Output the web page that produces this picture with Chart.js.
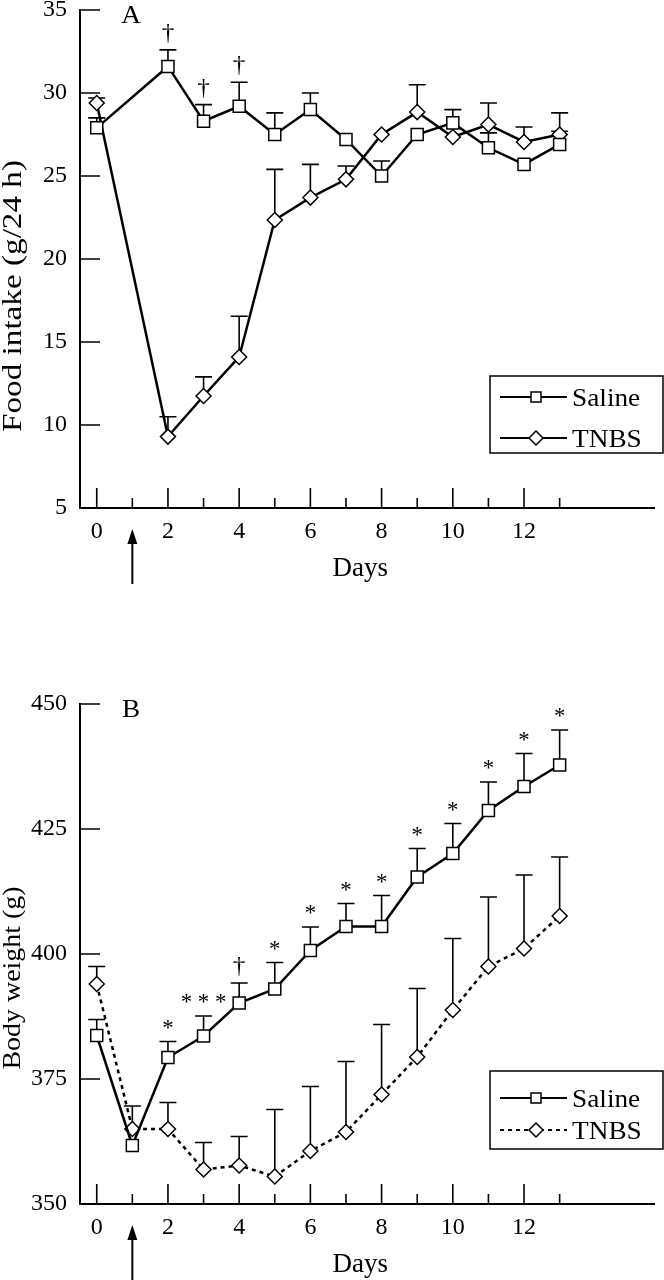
<!DOCTYPE html>
<html>
<head>
<meta charset="utf-8">
<script src="https://cdn.jsdelivr.net/npm/chart.js@4.4.0/dist/chart.umd.min.js"></script>
<style>
html, body { margin: 0; padding: 0; background: #fff; }
.panel { position: absolute; left: 0; width: 664px; height: 640px; }
#panelA { top: 0; }
#panelB { top: 640px; }
</style>
</head>
<body>
<div class="panel" id="panelA"><canvas id="chartA" width="664" height="640"></canvas></div>
<div class="panel" id="panelB"><canvas id="chartB" width="664" height="640"></canvas></div>
<script>
var days = [0, 1, 2, 3, 4, 5, 6, 7, 8, 9, 10, 11, 12, 13];
var xTickLabels = [0, 2, 4, 6, 8, 10, 12];
var foodTicks = [5, 10, 15, 20, 25, 30, 35];
var weightTicks = [350, 375, 400, 425, 450];
var seriesNames = ['Saline', 'TNBS'];

// panel A - food intake (g/24 h), mean and upper SEM
var foodSaline    = [27.9, null, 31.6, 28.3, 29.2, 27.5, 29.0, 27.2, 25.0, 27.5, 28.2, 26.7, 25.7, 26.9];
var foodSalineErr = [0.6, null, 1.0, 1.0, 1.45, 1.3, 1.0, 0, 0.9, 0, 0.8, 0.9, 0, 0.8];
var foodTnbs      = [29.4, null, 9.3, 11.75, 14.1, 22.35, 23.7, 24.8, 27.5, 28.85, 27.35, 28.1, 27.05, 27.5];
var foodTnbsErr   = [0.3, null, 1.2, 1.15, 2.45, 3.05, 2.0, 0.8, 0, 1.65, 0, 1.3, 0.9, 1.3];
var foodMarks     = ['', '', '†', '†', '†', '', '', '', '', '', '', '', '', ''];

// panel B - body weight (g)
var weightSaline    = [383.7, 361.7, 379.3, 383.6, 390.2, 393.0, 400.7, 405.5, 405.5, 415.4, 420.1, 428.7, 433.5, 437.8];
var weightSalineErr = [3.2, 0, 3.2, 4.0, 4.0, 5.3, 4.7, 4.6, 6.2, 5.7, 6.0, 5.7, 6.6, 7.0];
var weightTnbs      = [394.0, 365.0, 365.0, 356.9, 357.7, 355.5, 360.6, 364.4, 371.9, 379.4, 388.8, 397.5, 401.1, 407.6];
var weightTnbsErr   = [3.5, 4.6, 5.3, 5.4, 5.8, 13.4, 12.9, 14.1, 14.0, 13.7, 14.3, 13.9, 14.7, 11.8];
var weightMarks     = ['', '', '*', '* * *', '†', '*', '*', '*', '*', '*', '*', '*', '*', '*'];

var FONT = '"Liberation Serif", "Times New Roman", serif';

function toPoints(vals) {
    return days.map(function(d, i) { return { x: d, y: vals[i] }; });
}

function drawMarker(ctx, style, x, y, r) {
    ctx.save();
    ctx.fillStyle = '#fff';
    ctx.strokeStyle = '#000';
    ctx.lineWidth = 1.5;
    ctx.beginPath();
    if (style == 'rect') {
        ctx.rect(x - r, y - r, 2 * r, 2 * r);
    } else {
        ctx.moveTo(x, y - r); ctx.lineTo(x + r, y); ctx.lineTo(x, y + r); ctx.lineTo(x - r, y); ctx.closePath();
    }
    ctx.fill();
    ctx.stroke();
    ctx.restore();
}

function stretchText(ctx, text, x, y, size, sx, align, baseline) {
    ctx.save();
    ctx.translate(x, y);
    ctx.scale(sx, 1);
    ctx.font = size + 'px ' + FONT;
    ctx.fillStyle = '#000';
    ctx.textAlign = align;
    ctx.textBaseline = baseline;
    ctx.fillText(text, 0, 0);
    ctx.restore();
}

// error bars (upper only), drawn under the markers
var errorBars = {
    id: 'errorBars',
    beforeDatasetsDraw: function(chart) {
        var ctx = chart.ctx, xs = chart.scales.x, ys = chart.scales.y;
        ctx.save();
        ctx.strokeStyle = '#000';
        ctx.lineWidth = 1.6;
        chart.data.datasets.forEach(function(ds) {
            ds.data.forEach(function(p, i) {
                var e = ds.err[i];
                if (p.y == null || !e) return;
                var px = xs.getPixelForValue(p.x);
                var y0 = ys.getPixelForValue(p.y);
                var y1 = ys.getPixelForValue(p.y + e);
                ctx.beginPath();
                ctx.moveTo(px, y0); ctx.lineTo(px, y1);
                ctx.moveTo(px - 8.5, y1); ctx.lineTo(px + 8.5, y1);
                ctx.stroke();
            });
        });
        ctx.restore();
    }
};

// inward tick marks and the rest of the decorations
var decor = {
    id: 'decor',
    afterDraw: function(chart, args, o) {
        var ctx = chart.ctx, xs = chart.scales.x, ys = chart.scales.y, area = chart.chartArea;
        ctx.save();
        ctx.strokeStyle = '#000';
        ctx.fillStyle = '#000';
        ctx.lineWidth = 1.6;
        ctx.beginPath();
        o.yTicks.forEach(function(v) {
            var py = ys.getPixelForValue(v);
            ctx.moveTo(area.left, py); ctx.lineTo(area.left + 20, py);
        });
        days.forEach(function(d) {
            var px = xs.getPixelForValue(d);
            var len = xTickLabels.indexOf(d) >= 0 ? 20 : 10;
            ctx.moveTo(px, area.bottom); ctx.lineTo(px, area.bottom - len);
        });
        ctx.stroke();

        // panel letter
        stretchText(ctx, o.letter, area.left + 51, area.top + 13, 26, 1.05, 'center', 'alphabetic');

        // significance marks above saline error bars
        var sal = chart.data.datasets[0];
        o.marks.forEach(function(m, i) {
            if (!m) return;
            var px = xs.getPixelForValue(days[i]);
            var top = ys.getPixelForValue(sal.data[i].y + (sal.err[i] || 0));
            var isStar = m.indexOf('*') >= 0;
            var cy = top - (isStar ? 19 : 16);
            var base = cy + (isStar ? 12 : 6);
            stretchText(ctx, m, px, base, 24, isStar ? 0.95 : 1.05, 'center', 'alphabetic');
        });

        // arrow marking the day of TNBS instillation
        var ax = xs.getPixelForValue(1);
        var tip = area.bottom + 21;
        ctx.lineWidth = 2;
        ctx.beginPath();
        ctx.moveTo(ax, tip + 10); ctx.lineTo(ax, area.bottom + 76);
        ctx.stroke();
        ctx.beginPath();
        ctx.moveTo(ax, tip); ctx.lineTo(ax + 5, tip + 15); ctx.lineTo(ax - 5, tip + 15); ctx.closePath();
        ctx.fill();

        // x title
        stretchText(ctx, 'Days', xs.getPixelForValue(7.4), area.bottom + 68, 27, 1.0, 'center', 'alphabetic');

        // y title
        ctx.save();
        ctx.translate(o.titleX, o.titleY);
        ctx.rotate(-Math.PI / 2);
        ctx.font = o.titleSize + 'px ' + FONT;
        var w = ctx.measureText(o.title).width;
        ctx.scale(o.titleLen / w, 1);
        ctx.textAlign = 'center';
        ctx.textBaseline = 'middle';
        ctx.fillText(o.title, 0, 0);
        ctx.restore();

        // legend
        var L = o.legend;
        ctx.lineWidth = 1.5;
        ctx.strokeRect(L.left, L.top, L.right - L.left, L.bottom - L.top);
        chart.data.datasets.forEach(function(ds, k) {
            var ry = L.rows[k];
            ctx.save();
            ctx.lineWidth = 2;
            ctx.setLineDash(ds.borderDash || []);
            ctx.beginPath();
            ctx.moveTo(L.left + 10, ry); ctx.lineTo(L.left + 77, ry);
            ctx.stroke();
            ctx.restore();
            drawMarker(ctx, ds.pointStyle, L.left + 46, ry, ds.pointStyle == 'rect' ? 5 : 7);
            stretchText(ctx, ds.label, L.left + 82, ry + 9, 26, 1.05, 'left', 'alphabetic');
        });
        ctx.restore();
    }
};

function seriesStyle(label, vals, errs, style, dashed) {
    return {
        label: label,
        data: toPoints(vals),
        err: errs,
        borderColor: '#000',
        borderWidth: 2.5,
        borderDash: dashed ? [4, 4] : [],
        pointStyle: style,
        pointRadius: style == 'rect' ? 8.5 : 7.5,
        pointBackgroundColor: '#fff',
        pointBorderColor: '#000',
        pointBorderWidth: 1.5,
        spanGaps: true,
        tension: 0
    };
}

function makePanel(id, datasets, yTicks, padTop, padBottom, decorOpts) {
    return new Chart(document.getElementById(id), {
        type: 'line',
        data: { datasets: datasets },
        plugins: [errorBars, decor],
        options: {
            responsive: false,
            animation: false,
            layout: { padding: { top: padTop, bottom: padBottom, left: 0, right: 0 } },
            plugins: { legend: { display: false }, tooltip: { enabled: false }, decor: decorOpts },
            scales: {
                x: {
                    type: 'linear', min: -0.47, max: 15.65,
                    afterBuildTicks: function(s) { s.ticks = xTickLabels.map(function(v) { return { value: v }; }); },
                    afterFit: function(s) { s.height = 40; s.paddingLeft = 0; s.paddingRight = 0; },
                    grid: { display: false, drawTicks: false },
                    border: { display: true, color: '#000', width: 2 },
                    ticks: { color: '#000', font: { family: FONT, size: 24 }, padding: 9, maxRotation: 0, autoSkip: false }
                },
                y: {
                    min: yTicks[0], max: yTicks[yTicks.length - 1],
                    afterBuildTicks: function(s) { s.ticks = yTicks.map(function(v) { return { value: v }; }); },
                    afterFit: function(s) { s.width = 80; s.paddingTop = 0; s.paddingBottom = 0; },
                    grid: { display: false, drawTicks: false },
                    border: { display: true, color: '#000', width: 2 },
                    ticks: { color: '#000', font: { family: FONT, size: 24 }, padding: 13 }
                }
            }
        }
    });
}

makePanel('chartA', [
    seriesStyle(seriesNames[0], foodSaline, foodSalineErr, 'rect', false),
    seriesStyle(seriesNames[1], foodTnbs, foodTnbsErr, 'rectRot', false)
], foodTicks, 10, 92, {
    letter: 'A', marks: foodMarks, yTicks: foodTicks,
    title: 'Food intake (g/24 h)', titleX: 14, titleY: 296, titleSize: 28, titleLen: 272,
    legend: { left: 490, right: 663, top: 376, bottom: 453, rows: [397, 438] }
});

makePanel('chartB', [
    seriesStyle(seriesNames[0], weightSaline, weightSalineErr, 'rect', false),
    seriesStyle(seriesNames[1], weightTnbs, weightTnbsErr, 'rectRot', true)
], weightTicks, 64, 36, {
    letter: 'B', marks: weightMarks, yTicks: weightTicks,
    title: 'Body weight (g)', titleX: 13, titleY: 338, titleSize: 25, titleLen: 183,
    legend: { left: 490, right: 663, top: 431, bottom: 509, rows: [458, 490] }
});
</script>
</body>
</html>
